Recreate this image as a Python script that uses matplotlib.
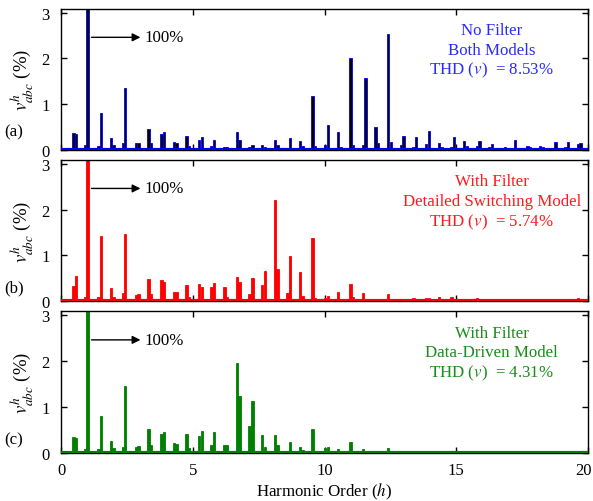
import matplotlib
matplotlib.use("Agg")
import matplotlib.pyplot as plt
from matplotlib.transforms import ScaledTranslation

plt.rcParams['font.family'] = ['Liberation Serif', 'DejaVu Serif']
plt.rcParams['mathtext.fontset'] = 'stix'

orders = [0.47, 0.57, 0.91, 1.0, 1.42, 1.51, 1.9, 1.99, 2.35, 2.44, 2.85, 2.94,
          3.32, 3.42, 3.81, 3.91, 4.28, 4.38, 4.76, 4.86, 5.24, 5.34, 5.71, 5.81,
          6.2, 6.3, 6.68, 6.78, 7.16, 7.26, 7.63, 7.73, 8.11, 8.21, 8.6, 8.7,
          9.07, 9.17, 9.55, 9.65, 10.03, 10.13, 10.5, 10.6, 10.98, 11.08,
          11.46, 11.56, 11.94, 12.04, 12.42, 12.52, 12.9, 13.0, 13.38, 13.48,
          13.86, 13.96, 14.34, 14.44, 14.82, 14.92, 15.3, 15.4, 15.78, 15.88,
          16.26, 16.36, 16.74, 16.84, 17.22, 17.32, 17.7, 17.8, 18.18, 18.28,
          18.66, 18.76, 19.14, 19.24, 19.62, 19.72]

no_filter = [0.36, 0.34, 0.10, 100, 0.09, 0.80, 0.26, 0.10, 0.15, 1.36, 0.14, 0.14,
             0.45, 0.15, 0.34, 0.38, 0.16, 0.15, 0.29, 0.09, 0.22, 0.27, 0.09, 0.21,
             0.07, 0.07, 0.39, 0.21, 0.05, 0.10, 0.10, 0.05, 0.22, 0.11, 0.04, 0.25,
             0.20, 0.09, 1.17, 0.09, 0.10, 0.53, 0.38, 0.05, 2.00, 0.10, 0.10, 1.57,
             0.49, 0.15, 2.54, 0.17, 0.10, 0.29, 0.05, 0.27, 0.12, 0.40, 0.15, 0.05,
             0.05, 0.27, 0.18, 0.08, 0.08, 0.19, 0.05, 0.13, 0.04, 0.06, 0.22, 0.03,
             0.09, 0.05, 0.08, 0.06, 0.03, 0.17, 0.05, 0.17, 0.12, 0.15]

switching = [0.34, 0.56, 0.09, 100, 0.09, 1.42, 0.29, 0.10, 0.18, 1.47, 0.14, 0.17,
             0.49, 0.15, 0.47, 0.43, 0.20, 0.20, 0.35, 0.10, 0.38, 0.32, 0.31, 0.40,
             0.32, 0.09, 0.53, 0.43, 0.15, 0.50, 0.36, 0.66, 2.20, 0.71, 0.18, 0.99,
             0.64, 0.12, 1.39, 0.07, 0.07, 0.12, 0.20, 0.03, 0.38, 0.09, 0.18, 0.03,
             0.04, 0.04, 0.16, 0.03, 0.02, 0.02, 0.07, 0.03, 0.07, 0.08, 0.10, 0.05,
             0.10, 0.04, 0.05, 0.04, 0.07, 0.03, 0.04, 0.03, 0.03, 0.03, 0.05, 0.02,
             0.04, 0.02, 0.02, 0.02, 0.05, 0.03, 0.04, 0.03, 0.07, 0.04]

data_driven = [0.35, 0.33, 0.09, 100, 0.09, 0.81, 0.26, 0.11, 0.14, 1.45, 0.14, 0.15,
               0.52, 0.17, 0.42, 0.47, 0.22, 0.20, 0.42, 0.12, 0.37, 0.49, 0.17, 0.46,
               0.19, 0.19, 1.96, 1.24, 0.59, 1.13, 0.40, 0.13, 0.40, 0.18, 0.06, 0.24,
               0.13, 0.07, 0.53, 0.06, 0.12, 0.14, 0.09, 0.02, 0.24, 0.02, 0.10, 0.04,
               0.03, 0.03, 0.11, 0.02, 0.02, 0.02, 0.03, 0.02, 0.05, 0.03, 0.03, 0.02,
               0.03, 0.02, 0.05, 0.02, 0.03, 0.03, 0.04, 0.02, 0.03, 0.02, 0.04, 0.02,
               0.03, 0.02, 0.03, 0.02, 0.03, 0.03, 0.04, 0.02, 0.04, 0.04]

panels = [
    (no_filter, 'black', '#0000ff', '#2a2aff', ['No Filter', 'Both Models'], '8.53', '(a)', 0.07),
    (switching, '#ff0000', '#ff0000', '#ff1a1a', ['With Filter', 'Detailed Switching Model'], '5.74', '(b)', 0.04),
    (data_driven, '#008000', '#008000', '#1a8c1a', ['With Filter', 'Data-Driven Model'], '4.31', '(c)', 0.04),
]

fig = plt.figure(figsize=(5.93, 5.02), dpi=100)
left, width = 0.1029, 0.8887
boxes = [(0.6998, 0.2803), (0.3978, 0.2815), (0.0950, 0.2829)]
fs = 12.2

for i, ((vals, fc, ec, tc, lines, thd, tag, tagy), (b, h)) in enumerate(zip(panels, boxes)):
    ax = fig.add_axes([left, b, width, h])
    ax.bar(orders, vals, width=0.09, color=fc, edgecolor=ec, linewidth=0.6, zorder=2)
    ax.axhline(0, color=ec, lw=3, zorder=3)
    ax.set_xlim(0, 20)
    ax.set_ylim(0, 3.08)
    ax.set_yticks([0, 1, 2, 3])
    ax.set_xticks([0, 5, 10, 15, 20])
    ax.tick_params(direction='in', top=True, right=True, labelsize=12, length=4, width=1)
    ax.tick_params(axis='y', pad=8)
    ax.tick_params(axis='x', pad=6)
    if i < 2:
        ax.set_xticklabels([])
    for s in ax.spines.values():
        s.set_linewidth(1)
    ax.set_ylabel(r'$v^{h}_{abc}$ (%)', fontsize=13.5, labelpad=4)
    # 100% annotation
    ax.annotate('', xy=(3.12, 2.46), xytext=(1.05, 2.46),
                arrowprops=dict(arrowstyle='-|>', color='black', lw=1, mutation_scale=12))
    ax.text(3.18, 2.46, '100%', fontsize=fs, va='center', ha='left')
    ax.text(16.35, 2.62, lines[0], color=tc, fontsize=fs, ha='center', va='center')
    ax.text(16.35, 2.19, lines[1], color=tc, fontsize=fs, ha='center', va='center')
    ax.text(16.35, 1.75, r'THD ($v$)  = ' + thd + '%', color=tc, fontsize=fs,
            ha='center', va='center')
    ax.text(-0.089, tagy, tag, transform=ax.transAxes, fontsize=fs,
            ha='center', va='bottom')
    if i == 2:
        ax.set_xlabel(r'Harmonic Order ($h$)', fontsize=fs, labelpad=2)
        fig.canvas.draw()
        lab = ax.get_xticklabels()[-1]
        lab.set_transform(lab.get_transform() + ScaledTranslation(-3 / 72, 0, fig.dpi_scale_trans))

fig.savefig('out.png', dpi=100)
